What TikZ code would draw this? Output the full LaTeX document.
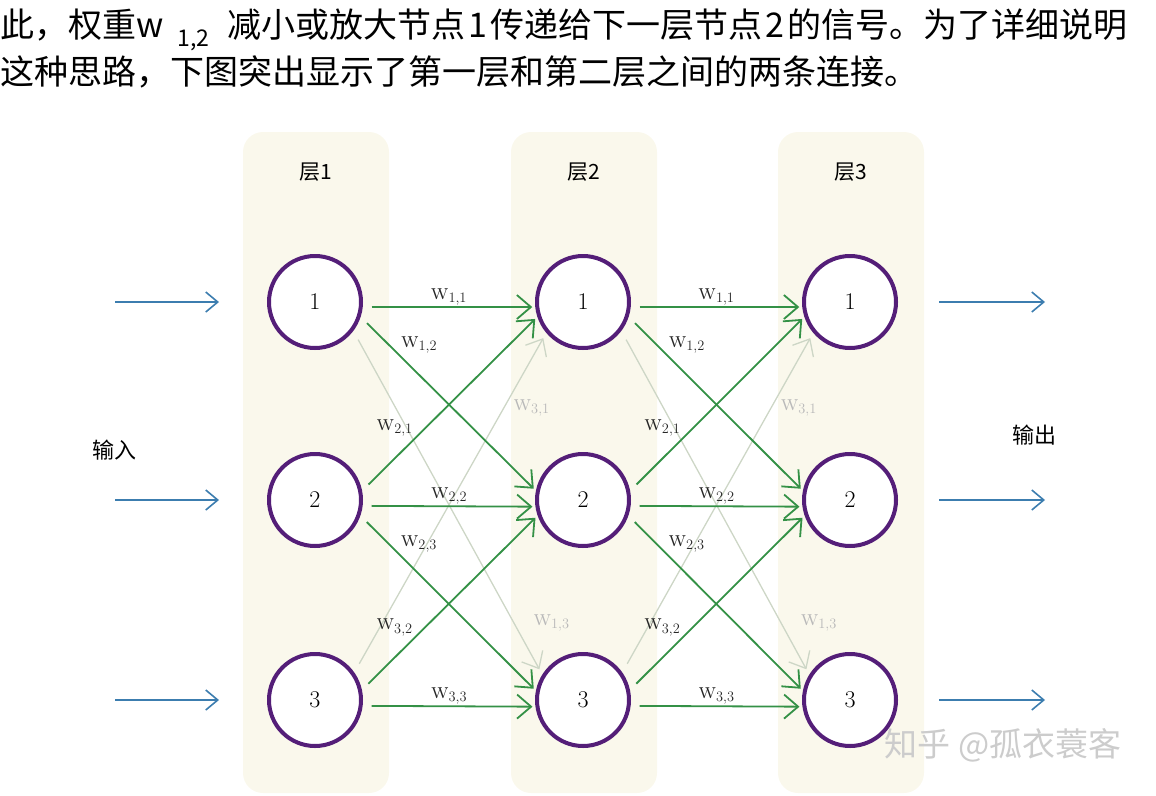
\documentclass[tikz,border=0pt]{standalone}
\usepackage{fontspec}
\newfontfamily\cjk{Noto Sans CJK SC}
\usetikzlibrary{arrows.meta,positioning}
\definecolor{layerfill}{RGB}{250,248,236}
\definecolor{neuronpurple}{RGB}{84,30,120}
\definecolor{weightgreen}{RGB}{52,145,70}
\definecolor{signalblue}{RGB}{60,125,175}
\definecolor{fadedline}{RGB}{205,214,198}
\definecolor{fadedtext}{RGB}{185,185,185}
\tikzset{
    layerband/.style={
        fill=layerfill,
        rounded corners=20pt
    },
    layertitle/.style={
        font=\cjk\fontsize{21}{21}\selectfont
    },
    neuron/.style={
        circle,
        draw=neuronpurple,
        line width=4pt,
        fill=white,
        minimum size=92pt,
        inner sep=0pt,
        font=\fontsize{24}{24}\selectfont
    },
    weight/.style={
        -{Straight Barb[length=14pt,width=24pt]},
        weightgreen,
        line width=1.8pt,
        shorten <=9pt,
        shorten >=3pt
    },
    faint/.style={
        -{Straight Barb[length=14pt,width=24pt]},
        fadedline,
        line width=1.3pt,
        shorten <=10pt,
        shorten >=6pt
    },
    signal/.style={
        -{Straight Barb[length=12pt,width=20pt]},
        signalblue,
        line width=1.6pt
    },
    wlabel/.style={
        font=\fontsize{21}{21}\selectfont,
        inner sep=1pt,
        text=black!85
    },
    flabel/.style={
        wlabel,
        text=fadedtext
    }
}
\newcommand{\wt}[1]{{\scshape w}$_{#1}$}
\begin{document}
\begin{tikzpicture}[x=1pt, y=-1pt]
    \useasboundingbox (0,0) rectangle (1156,795);

    % intro text above the figure
    \node[anchor=north west, align=left, inner sep=0pt,
          font=\cjk\fontsize{34}{47}\selectfont] (intro) at (0,9) {
        此，权重w\hspace{14pt}\raisebox{-9pt}{\fontsize{23}{23}\selectfont 1,2}\hspace{18pt}减小或放大节点\hspace{3pt}1\hspace{3pt}传递给下一层节点\hspace{3pt}2\hspace{3pt}的信号。为了详细说明\\
        这种思路，下图突出显示了第一层和第二层之间的两条连接。
    };

    % layers and neurons
    \foreach \ly/\x in {1/316,2/584,3/851} {
        \fill[layerband] (\x-73,132) rectangle (\x+73,793);
        \node[layertitle] (title\ly) at (\x,172) {层\ly};
        \foreach \n/\y in {1/302,2/500,3/700}
            \node[neuron] (n\ly\n) at (\x-1,\y) {\n};
    }

    \node[font=\cjk\fontsize{22}{22}\selectfont] (inlabel) at (114,450) {输入};
    \node[font=\cjk\fontsize{22}{22}\selectfont] (outlabel) at (1034,435) {输出};

    % inputs and outputs
    \foreach \n/\y in {1/302,2/500,3/700} {
        \coordinate (in\n) at (115,\y);
        \coordinate (out\n) at (1045,\y);
        \draw[signal, shorten >=48pt] (in\n) -- (n1\n.west);
        \draw[signal, shorten <=41pt] (n3\n.east) -- (out\n);
    }

    % weights between layers
    \foreach \a/\b in {1/2,2/3} {
        \draw[faint] (n\a1.-37) -- node[flabel, pos=0.85, right, xshift=18pt] {\wt{1,3}} (n\b3.148);
        \draw[faint] (n\a3.35) -- node[flabel, pos=0.78, right, xshift=8pt] {\wt{3,1}} (n\b1.-140);

        \draw[weight] (n\a1.-6) -- node[wlabel, above] {\wt{1,1}} (n\b1.186);
        \draw[weight] (n\a1.-18) -- node[wlabel, pos=0.22, above right] {\wt{1,2}} (n\b2.169);
        \draw[weight] (n\a2.11) -- node[wlabel, pos=0.3, above left] {\wt{2,1}} (n\b1.-162);
        \draw[weight] (n\a2.-7) -- node[wlabel, above] {\wt{2,2}} (n\b2.188);
        \draw[weight] (n\a2.-19) -- node[wlabel, pos=0.22, above right] {\wt{2,3}} (n\b3.169);
        \draw[weight] (n\a3.12) -- node[wlabel, pos=0.3, above left] {\wt{3,2}} (n\b2.-161);
        \draw[weight] (n\a3.-7) -- node[wlabel, above] {\wt{3,3}} (n\b3.188);
    }

    \node[font=\cjk\fontsize{33}{33}\selectfont, text=gray!40] (mark) at (1003,745) {知乎 @孤衣蓑客};
\end{tikzpicture}
\end{document}
